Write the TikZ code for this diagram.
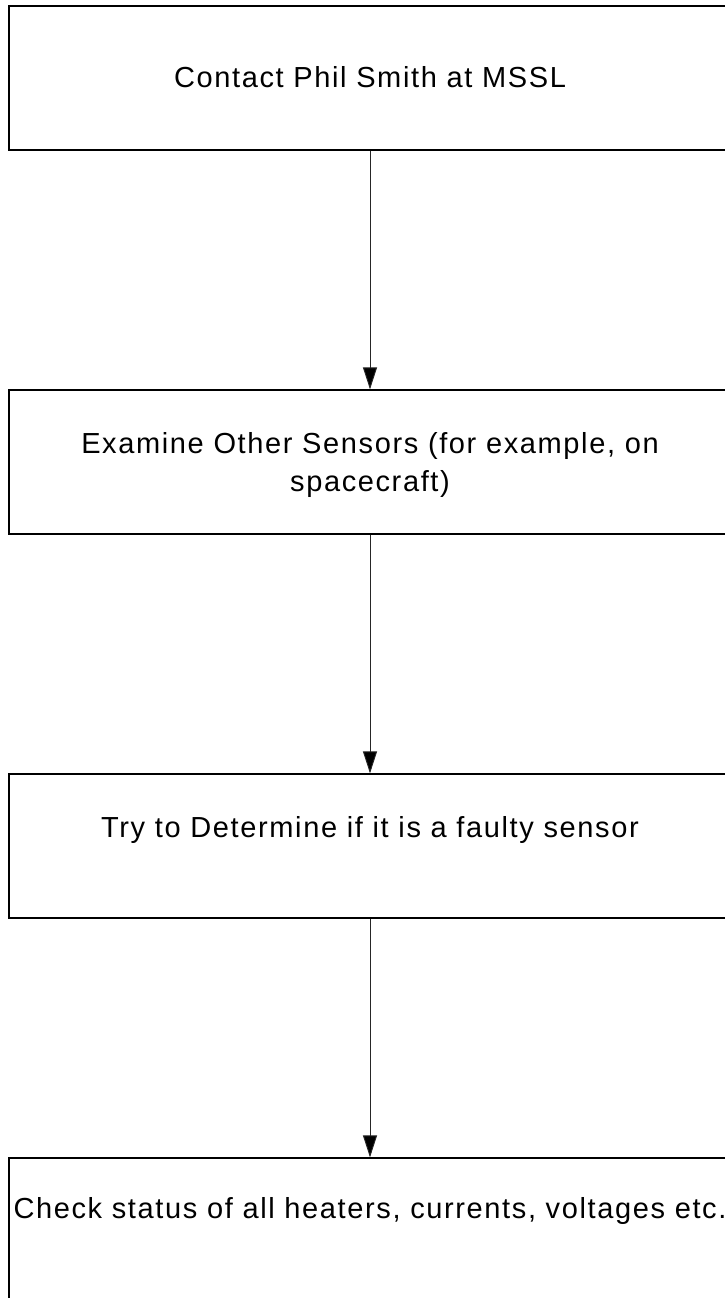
\documentclass[tikz,border=0pt]{standalone}
\usepackage{fontspec}
\setmainfont{Liberation Sans}[LetterSpace=5.6]
\usetikzlibrary{arrows.meta}
\begin{document}
\begin{tikzpicture}[x=1pt,y=-1pt,
  stepbox/.style={draw=black, line width=1.2pt, minimum width=722pt,
    minimum height=144pt, inner sep=0pt},
  steptext/.style={font=\fontsize{29}{38}\selectfont, inner sep=0pt, align=center},
  flow/.style={draw=black!85, line width=0.9pt, -{Triangle[length=22pt,width=14pt,fill=black]}}]
\useasboundingbox (0,0) rectangle (725,1298);

% process boxes
\node[stepbox] (b1) at (370,78) {};
\node[stepbox] (b2) at (370,462) {};
\node[stepbox] (b3) at (370,846) {};
\node[stepbox] (b4) at (370,1230) {};

% box texts
\node[steptext, anchor=base] (t1) at (370,88) {Contact Phil Smith at MSSL};
\node[steptext, yshift=-2.8pt] (t2) at (370,462) {Examine Other Sensors (for example, on\\spacecraft)};
\node[steptext, anchor=base] (t3) at (370,837) {Try to Determine if it is a faulty sensor};
\node[steptext, anchor=base] (t4) at (370,1218) {Check status of all heaters, currents, voltages etc.};

% flow connectors
\draw[flow] (b1.south) -- (b2.north);
\draw[flow] (b2.south) -- (b3.north);
\draw[flow] (b3.south) -- (b4.north);
\end{tikzpicture}
\end{document}
